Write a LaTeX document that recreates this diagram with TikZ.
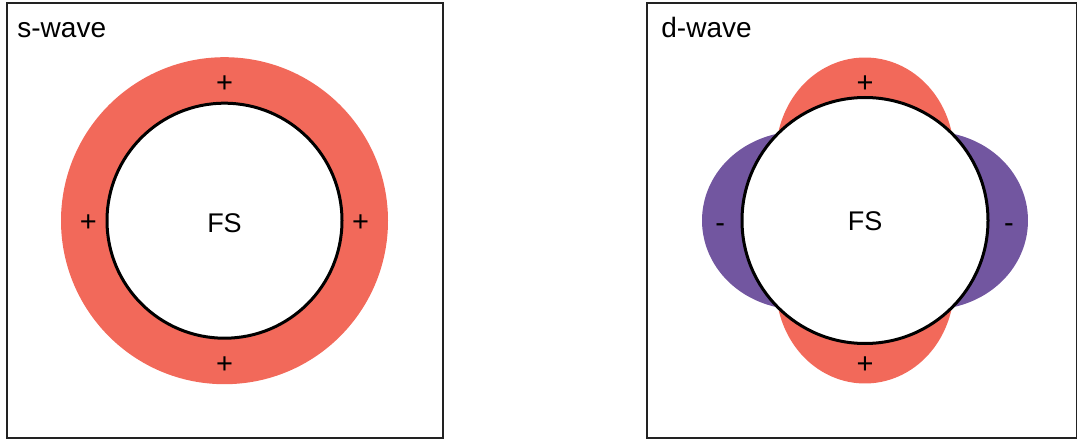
\documentclass[tikz,border=0pt]{standalone}
\usepackage{fontspec}
\setmainfont{Liberation Sans}
\usepackage{tikz}
\usetikzlibrary{positioning}
\definecolor{lobered}{HTML}{F2695A}
\definecolor{lobepurp}{HTML}{7256A0}
\definecolor{frame}{HTML}{222222}

\begin{document}
\begin{tikzpicture}[x=0.5pt,y=0.5pt,
  panel/.style={draw=frame,line width=1pt},
  fermi/.style={draw=black,fill=white,line width=1.5pt},
  title/.style={anchor=base west,inner sep=0pt,font=\fontsize{14}{16}\selectfont},
  sign/.style={anchor=base,inner sep=0pt,font=\fontsize{14.5}{16}\selectfont},
  fslabel/.style={inner sep=0pt,font=\fontsize{13.5}{16}\selectfont}]
  \useasboundingbox (0,0) rectangle (1077,440);
  % panels
  \draw[panel] (6.5,2.5) rectangle (442.5,437);
  \draw[panel] (647,2.5) rectangle (1076.5,437);
  \node[title] (stitle) at (17,402) {s-wave};
  \node[title] (dtitle) at (661,402) {d-wave};
  % s-wave gap: uniform ring
  \coordinate (sc) at (224.5,219.3);
  \fill[lobered] (sc) circle (163.5);
  \draw[fermi] (sc) circle (117.5);
  \node[fslabel] (sfs) at (224.5,217) {FS};
  \node[sign] (stop) at (224.5,347) {+};
  \node[sign] (sbot) at (224.5,67) {+};
  \node[sign] (sleft) at (88.3,209) {+};
  \node[sign] (sright) at (360.5,209) {+};
  % d-wave gap: r = R + A|cos 2t|, sign by lobe
  \coordinate (dc) at (865,219.5);
  \foreach \a/\c in {0/lobepurp,90/lobered,180/lobepurp,270/lobered}
    \fill[\c] plot[domain=\a-45:\a+45,samples=80,variable=\t]
      ({865+(123+40*abs(cos(2*\t)))*cos(\t)},{219.5+(123+40*abs(cos(2*\t)))*sin(\t)}) -- (dc) -- cycle;
  \draw[fermi] (dc) circle (123);
  \node[fslabel] (dfs) at (865,219) {FS};
  \node[sign] (dtop) at (865,347) {+};
  \node[sign] (dbot) at (865,67) {+};
  \node[sign] (dleft) at (720.3,207.2) {-};
  \node[sign] (dright) at (1009,207.2) {-};
\end{tikzpicture}
\end{document}
